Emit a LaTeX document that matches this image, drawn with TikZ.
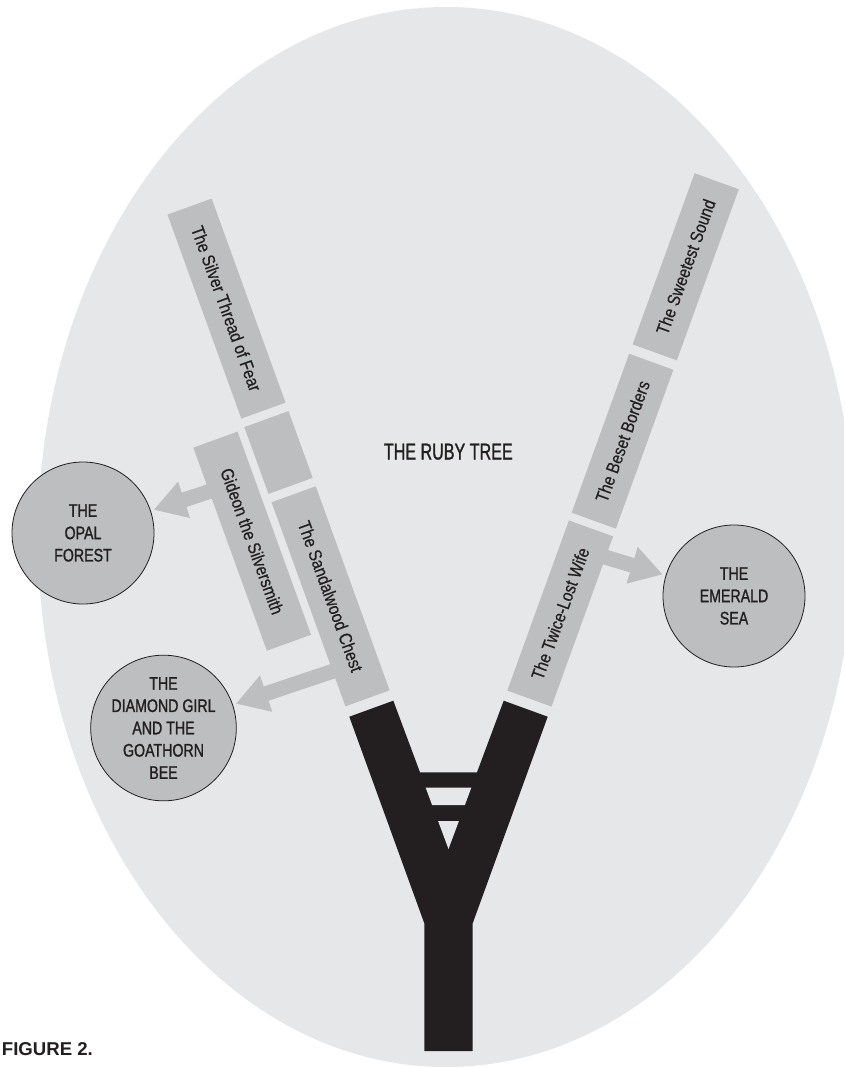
\documentclass[tikz,border=0pt]{standalone}
\usepackage{fontspec}
\setmainfont{Liberation Sans}
\newfontfamily\talefont[FakeStretch=0.85,FakeBold=0.5]{Liberation Sans}
\newfontfamily\realmfont[FakeStretch=0.78,FakeBold=1.2]{Liberation Sans}
\newfontfamily\rubyfont[FakeStretch=0.7,FakeBold=1.2]{Liberation Sans}
\usetikzlibrary{arrows.meta,calc,positioning,backgrounds}
\definecolor{ink}{HTML}{231F20}
\definecolor{pale}{HTML}{E6E7E8}
\definecolor{tone}{HTML}{BCBEC0}

\begin{document}
\begin{tikzpicture}[x=1pt,y=-1pt,
tale/.style={rectangle,fill=tone,text=ink,inner sep=0pt,minimum height=47pt,
  font=\talefont\fontsize{18}{20}\selectfont},
realm/.style={circle,draw=ink,line width=0.8pt,fill=tone,text=ink,minimum size=142pt,
  inner sep=0pt,align=center,font=\realmfont\fontsize{18.2}{22.3}\selectfont},
pointer/.style={tone,line width=15pt,-{Triangle[length=32pt,width=36pt]},shorten >=3pt}]
\useasboundingbox (0,0) rectangle (844,1068);
\begin{scope}[on background layer]
\clip (0,0) rectangle (844,1068);
\fill[white] (0,0) rectangle (844,1068);
\fill[pale] (446,537) ellipse [x radius=408, y radius=530];
\end{scope}

% the tree
\fill[ink] (424.3,1051) -- (424.3,923.3) -- (349.3,716.7) -- (393.3,700.7) -- (420,772.3)
  -- (477,772.3) -- (503.7,700.7) -- (547.7,716.7) -- (472.7,923.3) -- (472.7,1051) -- cycle;
\fill[pale] (425.7,787.7) -- (471.3,787.7) -- (464.9,805) -- (432.1,805) -- cycle;
\fill[pale] (438.1,821) -- (458.9,821) -- (448.5,849) -- cycle;

% left branch
\node[tale,rotate=-70.1,minimum width=217pt] (silver) at (226.5,308.6) {The Silver Thread of Fear};
\node[tale,rotate=-70.1,minimum width=71pt] (blank) at (278.5,452.5) {};
\node[tale,rotate=-70.1,minimum width=217pt] (sandal) at (330.6,596.3) {The Sandalwood Chest};
\node[tale,rotate=-70.1,minimum width=216pt] (gideon) at (252.2,541.2) {Gideon the Silversmith};

% right branch
\node[tale,rotate=70.1,minimum width=181pt] (twice) at (560.2,613.5) {The Twice-Lost Wife};
\node[tale,rotate=70.1,minimum width=169pt] (beset) at (622.5,441.2) {The Beset Borders};
\node[tale,rotate=70.1,minimum width=182pt] (sweet) at (685.7,266.8) {The Sweetest Sound};

% other worlds
\node[realm] (opal) at (83,533) {THE\\OPAL\\FOREST};
\node[realm] (diamond) at (163.5,728) {THE\\DIAMOND GIRL\\AND THE\\GOATHORN\\BEE};
\node[realm] (emerald) at (734,596) {THE\\EMERALD\\SEA};

\begin{scope}[on background layer]
\draw[pointer] ($(gideon.west)!0.22!(gideon.east)$) -- (opal);
\draw[pointer] ($(sandal.west)!0.83!(sandal.east)$) -- (diamond);
\draw[pointer] ($(twice.west)!0.87!(twice.east)$) -- (emerald);
\end{scope}

\node[text=ink,font=\rubyfont\fontsize{23}{26}\selectfont] (ruby) at (448.3,451.7) {THE RUBY TREE};
\node[anchor=base west,inner sep=0pt,text=ink,font=\bfseries\fontsize{18.6}{20}\selectfont] (fig) at (1.7,1055) {FIGURE 2.};
\end{tikzpicture}
\end{document}
